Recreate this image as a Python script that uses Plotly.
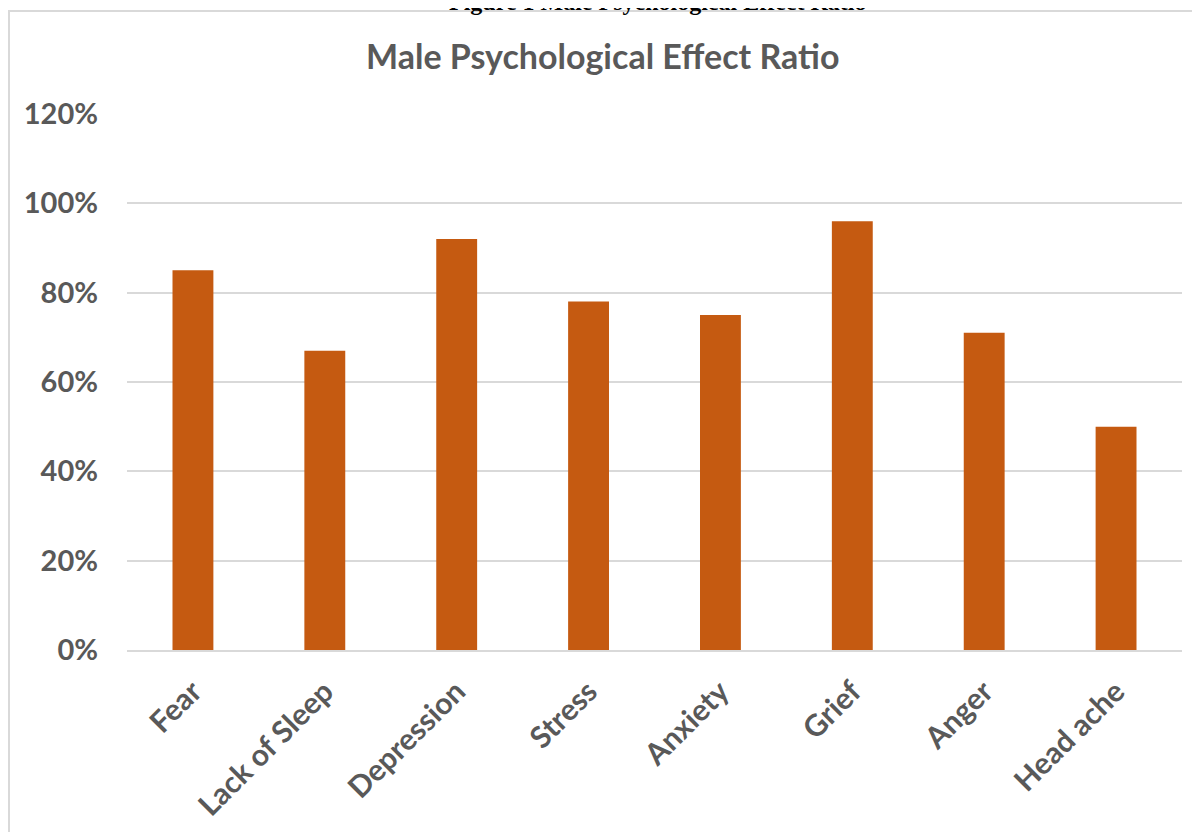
import plotly.graph_objects as go

categories = ["Fear", "Lack of Sleep", "Depression", "Stress", "Anxiety", "Grief", "Anger", "Head ache"]
values = [0.85, 0.67, 0.92, 0.78, 0.75, 0.96, 0.71, 0.50]
y_ticks = [0, 0.2, 0.4, 0.6, 0.8, 1.0, 1.2]
y_ticktext = ["0%", "20%", "40%", "60%", "80%", "100%", "120%"]
chart_title = "Male Psychological Effect Ratio"
caption = "Figure 1 Male Psychological Effect Ratio"

# page body adds an 8px offset; work in window pixel coordinates
O = 8
WIN_W, WIN_H = 1200, 832
W, H = WIN_W - O, WIN_H - O
PL, PR, PT, PB = 127, 1182, 114, 650  # plot area in window pixels
L, R, T, B = PL - O, WIN_W - PR, PT - O, WIN_H - PB
pw, ph = PR - PL, PB - PT

def px(x):
    return (x - PL) / pw

def py(y):
    return (PB - y) / ph

gray = "#595959"
font = "Lato"

fig = go.Figure()
fig.add_trace(go.Bar(x=categories, y=values, marker=dict(color="#C55A11", line=dict(width=0)), width=0.31))

fig.update_layout(
    width=W, height=H,
    margin=dict(l=L, r=R, t=T, b=B, autoexpand=False),
    paper_bgcolor="white", plot_bgcolor="white",
    showlegend=False,
    font=dict(family=font, color=gray),
    xaxis=dict(
        tickangle=-45,
        tickfont=dict(family=font, size=30, color=gray, weight="bold"),
        showgrid=False, showline=True, linecolor="#d9d9d9", linewidth=2,
        ticks="", zeroline=False, ticklabelstandoff=10,
    ),
    yaxis=dict(
        range=[0, 1.2],
        tickvals=y_ticks, ticktext=y_ticktext,
        tickfont=dict(family=font, size=29, color=gray, weight="bold"),
        showgrid=True, gridcolor="#d9d9d9", gridwidth=1.5,
        zeroline=False, showline=False, ticks="",
        ticklabelstandoff=28,
    ),
)

fig.add_annotation(
    text=chart_title, xref="paper", yref="paper",
    x=px(602), y=py(55), xanchor="center", yanchor="middle",
    showarrow=False, font=dict(family=font, size=34, color=gray, weight="bold"),
)

fig.add_annotation(
    text=caption, xref="paper", yref="paper",
    x=px(657), y=py(17), xanchor="center", yanchor="bottom",
    showarrow=False, font=dict(family="Liberation Serif", size=24, color="black", weight="bold"),
)

fig.add_shape(
    type="rect", xref="paper", yref="paper",
    x0=px(9), x1=px(1210), y0=py(11), y1=py(840),
    line=dict(color="#d9d9d9", width=2), fillcolor="rgba(0,0,0,0)", layer="below",
)

fig.write_html("out.html")
